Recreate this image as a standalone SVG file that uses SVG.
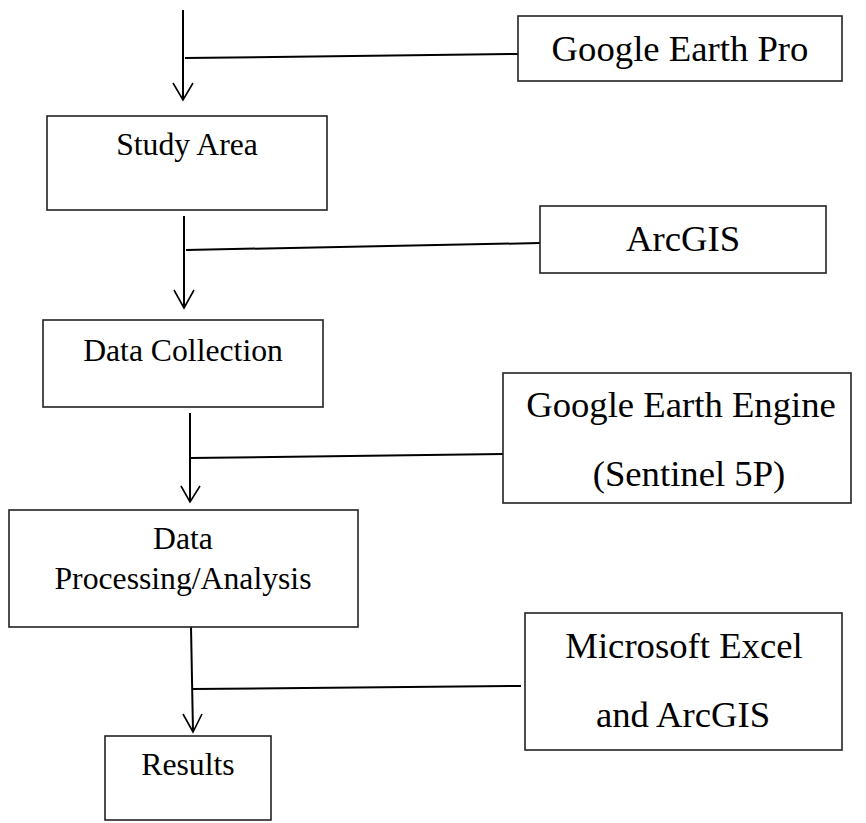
<svg xmlns="http://www.w3.org/2000/svg" width="866" height="823" viewBox="0 0 866 823">
<defs>
<style>
.box{fill:#fff;stroke:#222;stroke-width:1.6}
.l{font-family:"Liberation Serif","Times New Roman",serif;font-size:31.7px;fill:#000;text-anchor:middle}
.r{font-family:"Liberation Serif","Times New Roman",serif;font-size:36.7px;fill:#000;text-anchor:middle}
.c{fill:none;stroke:#000;stroke-width:2}
.a{fill:none;stroke:#000;stroke-width:1.6}
</style>
</defs>
<rect width="866" height="823" fill="#fff"/>
<g id="connectors">
<line class="c" x1="183" y1="10" x2="183" y2="100"/>
<polyline class="a" points="173,83 183,100 193,83"/>
<line class="c" x1="185" y1="58" x2="518" y2="54"/>
<line class="c" x1="184" y1="216" x2="184" y2="308"/>
<polyline class="a" points="174,290 184,308 194,290"/>
<line class="c" x1="186" y1="250" x2="540" y2="243"/>
<line class="c" x1="190" y1="413" x2="190" y2="502"/>
<polyline class="a" points="181,486 190,502 200,486"/>
<line class="c" x1="190" y1="458" x2="503" y2="454"/>
<line class="c" x1="191" y1="627" x2="193" y2="732"/>
<polyline class="a" points="183,714 193,732 202,714"/>
<line class="c" x1="193" y1="689" x2="521" y2="686"/>
</g>
<g id="google-earth-pro">
<rect class="box" x="518" y="16" width="324" height="65"/>
<text class="r" x="680" y="61">Google Earth Pro</text>
</g>
<g id="study-area">
<rect class="box" x="47" y="116" width="280" height="94"/>
<text class="l" x="187" y="155">Study Area</text>
</g>
<g id="arcgis">
<rect class="box" x="540" y="206" width="286" height="67"/>
<text class="r" x="683" y="251">ArcGIS</text>
</g>
<g id="data-collection">
<rect class="box" x="43" y="320" width="280" height="87"/>
<text class="l" x="183" y="361">Data Collection</text>
</g>
<g id="google-earth-engine">
<rect class="box" x="503" y="373" width="348" height="130"/>
<text class="r" x="681" y="417">Google Earth Engine</text>
<text class="r" x="689" y="486">(Sentinel 5P)</text>
</g>
<g id="data-processing">
<rect class="box" x="9" y="510" width="349" height="117"/>
<text class="l" x="183" y="549">Data</text>
<text class="l" x="183" y="589">Processing/Analysis</text>
</g>
<g id="microsoft-excel">
<rect class="box" x="525" y="613" width="317" height="137"/>
<text class="r" x="684" y="658">Microsoft Excel</text>
<text class="r" x="683" y="727">and ArcGIS</text>
</g>
<g id="results">
<rect class="box" x="105" y="736" width="166" height="84"/>
<text class="l" x="188" y="775">Results</text>
</g>
</svg>
